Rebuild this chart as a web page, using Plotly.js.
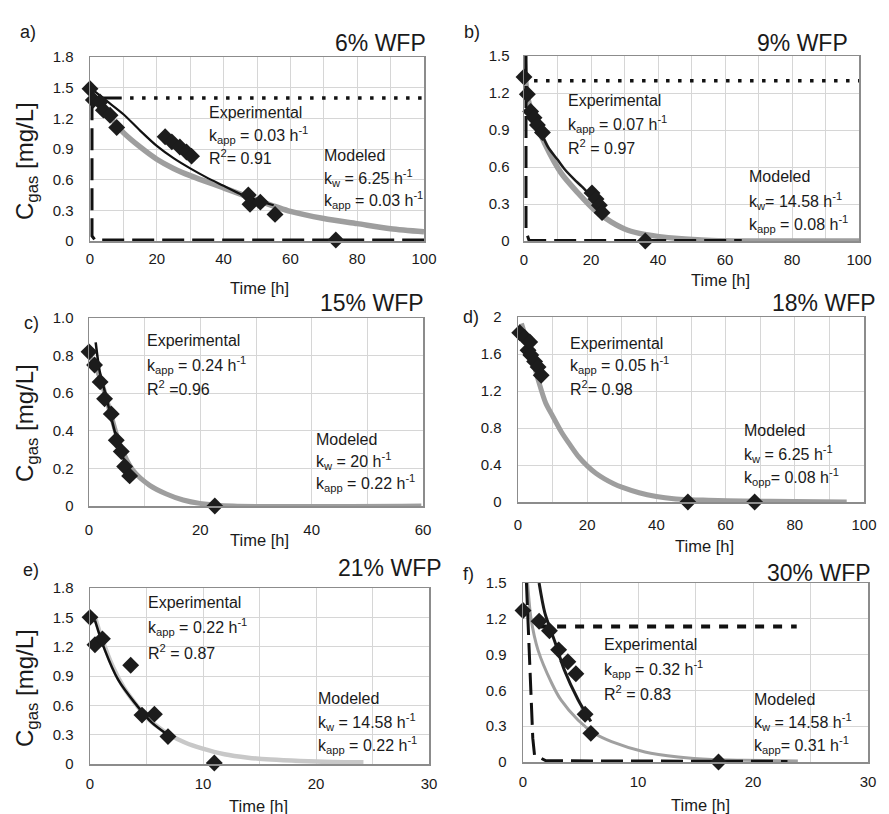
<!DOCTYPE html>
<html><head><meta charset="utf-8">
<script src="https://cdn.plot.ly/plotly-3.0.1.min.js"></script>
<style>html,body{margin:0;padding:0;background:#fff}#chart{width:889px;height:814px}</style>
</head><body><div id="chart"></div>
<script>
// ---------- DATA ----------
// Panel a: 6% WFP
var a_exp_t = [0, 1, 3, 4, 6, 8, 22.5, 24.5, 26.9, 28.9, 30.4, 47.4, 47.9, 51, 55.4, 73.6];
var a_exp_c = [1.49, 1.38, 1.36, 1.28, 1.23, 1.11, 1.02, 0.97, 0.92, 0.87, 0.83, 0.45, 0.36, 0.38, 0.26, 0.01];
var a_fit_t = [0, 5, 10, 15, 20, 25, 30, 35, 40, 45, 50, 55];
var a_fit_c = [1.5, 1.37, 1.24, 1.08, 0.93, 0.81, 0.71, 0.62, 0.54, 0.46, 0.40, 0.35];
var a_mod_t = [0, 5, 10, 15, 20, 25, 30, 40, 50, 60, 70, 80, 90, 100];
var a_mod_c = [1.45, 1.25, 1.06, 0.92, 0.80, 0.71, 0.64, 0.52, 0.40, 0.29, 0.22, 0.17, 0.12, 0.09];
var a_dot_t = [12, 100];
var a_dot_c = [1.4, 1.4];
var a_dash_t = [9.5, 0.6, 0.6, 1.5, 100];
var a_dash_c = [1.4, 1.4, 0.05, 0.01, 0.01];

// Panel b: 9% WFP
var b_exp_t = [0, 1, 2, 3, 4, 5.5, 20.3, 21.5, 22.5, 23.3, 36.2];
var b_exp_c = [1.33, 1.19, 1.05, 1.0, 0.94, 0.88, 0.39, 0.34, 0.29, 0.23, 0.0];
var b_fit_t = [0.7, 3, 5, 7.2, 10, 12.2, 15, 17.3, 21.2, 23];
var b_fit_c = [1.07, 0.96, 0.88, 0.76, 0.66, 0.58, 0.50, 0.44, 0.33, 0.28];
var b_mod_t = [0, 0.5, 1.2, 3, 6.2, 11.1, 16.1, 21.1, 26, 31, 36, 46, 56, 70, 100];
var b_mod_c = [1.5, 1.3, 1.15, 1.0, 0.79, 0.55, 0.39, 0.25, 0.155, 0.087, 0.054, 0.02, 0.005, 0.0, 0.0];
var b_dot_t = [3, 100];
var b_dot_c = [1.3, 1.3];
var b_dash_t = [0.6, 0.6, 1.5, 65];
var b_dash_c = [1.5, 0.08, 0.005, 0.005];

// Panel c: 15% WFP
var c_exp_t = [0, 1, 2, 2.8, 4, 4.9, 5.8, 6.4, 7.3, 22.6];
var c_exp_c = [0.82, 0.75, 0.66, 0.57, 0.49, 0.35, 0.29, 0.21, 0.16, 0.0];
var c_fit_t = [1.2, 1.9, 3.1, 4.6, 6.1, 7.0];
var c_fit_c = [0.87, 0.72, 0.58, 0.40, 0.26, 0.17];
var c_mod_t = [0, 1.9, 3.7, 5.5, 7.9, 10.9, 13.9, 16.9, 19.9, 25.9, 59.7];
var c_mod_c = [0.81, 0.69, 0.51, 0.33, 0.19, 0.11, 0.064, 0.032, 0.014, 0.0, 0.0];
var c_ytickvals = [0, 0.2, 0.4, 0.6, 0.8, 1.0];
var c_yticktext = ['0', '0.2', '0.4', '0.6', '0.8', '1.0'];

// Panel d: 18% WFP
var d_exp_t = [0.5, 1.9, 2.9, 3.4, 3.7, 4.8, 5.8, 6.7, 49.1, 68.4];
var d_exp_c = [1.83, 1.78, 1.64, 1.73, 1.59, 1.52, 1.46, 1.37, 0.0, 0.0];
var d_mod_t = [1, 2.5, 4, 6, 8, 10, 12.5, 15, 17.5, 20, 22.5, 25, 27.5, 30, 35, 40, 45, 50, 55, 65, 80, 95];
var d_mod_c = [1.93, 1.75, 1.57, 1.30, 1.07, 0.93, 0.76, 0.62, 0.49, 0.39, 0.31, 0.25, 0.20, 0.16, 0.10, 0.06, 0.035, 0.025, 0.02, 0.01, 0.005, 0.0];

// Panel e: 21% WFP
var e_exp_t = [0, 0.44, 1.1, 3.6, 4.6, 5.7, 6.9, 11.0];
var e_exp_c = [1.50, 1.22, 1.28, 1.01, 0.50, 0.51, 0.28, 0.01];
var e_fit_t = [0.44, 1.3, 2.5, 4.0, 5.5, 7.1];
var e_fit_c = [1.47, 1.17, 0.86, 0.62, 0.42, 0.28];
var e_mod_t = [0.5, 1, 2, 3, 4, 5, 6, 7, 8.4, 9.9, 11.9, 14, 16, 18.6, 21.5, 24.2];
var e_mod_c = [1.48, 1.3, 1.0, 0.78, 0.62, 0.48, 0.38, 0.30, 0.22, 0.16, 0.10, 0.065, 0.045, 0.03, 0.02, 0.017];

// Panel f: 30% WFP
var f_exp_t = [0, 1.4, 2.3, 3.1, 3.9, 4.6, 5.4, 5.9, 17.0];
var f_exp_c = [1.27, 1.18, 1.10, 0.94, 0.84, 0.74, 0.40, 0.24, 0.0];
var f_fit_t = [1.4, 1.9, 2.8, 3.6, 4.8, 5.9];
var f_fit_c = [1.5, 1.25, 1.0, 0.77, 0.52, 0.34];
var f_mod_t = [0.4, 0.7, 1.3, 2.5, 3.3, 4.8, 6.2, 7.7, 10.6, 13.5, 16.4, 19.3, 23.9];
var f_mod_c = [1.5, 1.2, 0.94, 0.66, 0.52, 0.35, 0.24, 0.17, 0.084, 0.042, 0.02, 0.014, 0.008];
var f_sdash_t = [1.4, 23.8];
var f_sdash_c = [1.135, 1.135];
var f_dash_t = [0.3, 0.5, 0.7, 0.85, 1.0, 2, 23];
var f_dash_c = [1.5, 1.0, 0.5, 0.2, 0.06, 0.01, 0.005];

// Text labels
var panelLetters = ['a)', 'b)', 'c)', 'd)', 'e)', 'f)'];
var panelTitles = ['6% WFP', '9% WFP', '15% WFP', '18% WFP', '21% WFP', '30% WFP'];
var expTexts = [
  ['Experimental', 'k<sub>app</sub> = 0.03 h<sup>-1</sup>', 'R<sup>2</sup>= 0.91'],
  ['Experimental', 'k<sub>app</sub> = 0.07 h<sup>-1</sup>', 'R<sup>2</sup> = 0.97'],
  ['Experimental', 'k<sub>app</sub> = 0.24 h<sup>-1</sup>', 'R<sup>2</sup> =0.96'],
  ['Experimental', 'k<sub>app</sub> = 0.05 h<sup>-1</sup>', 'R<sup>2</sup>= 0.98'],
  ['Experimental', 'k<sub>app</sub> = 0.22 h<sup>-1</sup>', 'R<sup>2</sup> = 0.87'],
  ['Experimental', 'k<sub>app</sub> = 0.32 h<sup>-1</sup>', 'R<sup>2</sup> = 0.83']
];
var modTexts = [
  ['Modeled', 'k<sub>w</sub> = 6.25 h<sup>-1</sup>', 'k<sub>app</sub> = 0.03 h<sup>-1</sup>'],
  ['Modeled', 'k<sub>w</sub>= 14.58 h<sup>-1</sup>', 'k<sub>app</sub> = 0.08 h<sup>-1</sup>'],
  ['Modeled', 'k<sub>w</sub> = 20 h<sup>-1</sup>', 'k<sub>app</sub> = 0.22 h<sup>-1</sup>'],
  ['Modeled', 'k<sub>w</sub> = 6.25 h<sup>-1</sup>', 'k<sub>opp</sub>= 0.08 h<sup>-1</sup>'],
  ['Modeled', 'k<sub>w</sub> = 14.58 h<sup>-1</sup>', 'k<sub>app</sub> = 0.22 h<sup>-1</sup>'],
  ['Modeled', 'k<sub>w</sub> = 14.58 h<sup>-1</sup>', 'k<sub>app</sub>= 0.31 h<sup>-1</sup>']
];
var xTitle = 'Time [h]';
var yTitle = 'C<sub>gas</sub> [mg/L]';

// ---------- LAYOUT HELPERS ----------
var W = 889, H = 814;
function px(x) { return x / W; }
function py(y) { return 1 - y / H; }
var FONT = 'Liberation Sans, Arial, sans-serif';
var GRID = '#d6d6d6';
var FRAME = '#8c8c8c';

// panel pixel boxes [left, right, top, bottom]
var boxes = [
  [90, 424, 57, 241],
  [524, 859, 56, 241],
  [89, 423, 318, 506],
  [518, 864, 317, 502],
  [90, 429, 588, 764],
  [523, 868, 583, 762]
];
var xRanges = [[0, 100], [0, 100], [0, 60], [0, 100], [0, 30], [0, 30]];
var xDticks = [20, 20, 20, 20, 10, 10];
var xMinor = [10, 10, 10, 10, 5, 5];
var yRanges = [[0, 1.8], [0, 1.5], [0, 1.0], [0, 2], [0, 1.8], [0, 1.5]];
var yDticks = [0.3, 0.3, 0.2, 0.4, 0.3, 0.3];
var xStand = [3, 4, 9, 8, 5, 5];
var yStand = [12, 10, 11, 12, 12, 12];

var layout = {
  width: W, height: H,
  margin: {l: 0, r: 0, t: 0, b: 0},
  paper_bgcolor: '#fff', plot_bgcolor: '#fff',
  showlegend: false,
  font: {family: FONT, color: '#1a1a1a'},
  annotations: []
};

for (var i = 0; i < 6; i++) {
  var b = boxes[i];
  var sx = i === 0 ? '' : String(i + 1);
  layout['xaxis' + sx] = {
    domain: [px(b[0]), px(b[1])],
    anchor: 'y' + sx,
    range: xRanges[i], dtick: xDticks[i], tick0: 0,
    showgrid: true, gridcolor: GRID, gridwidth: 1,
    minor: {dtick: xMinor[i], showgrid: true, gridcolor: GRID, gridwidth: 1},
    showline: true, linecolor: FRAME, linewidth: 1.5, mirror: true,
    zeroline: false, ticks: '',
    ticklabelstandoff: xStand[i],
    tickfont: {family: FONT, size: 15, color: '#1a1a1a'}
  };
  layout['yaxis' + sx] = {
    domain: [py(b[3]), py(b[2])],
    anchor: 'x' + sx,
    range: yRanges[i], dtick: yDticks[i], tick0: 0,
    showgrid: true, gridcolor: GRID, gridwidth: 1,
    showline: true, linecolor: FRAME, linewidth: 1.5, mirror: true,
    zeroline: false, ticks: '',
    ticklabelstandoff: yStand[i],
    tickfont: {family: FONT, size: 15, color: '#1a1a1a'}
  };
}
layout.yaxis3.tickmode = 'array';
layout.yaxis3.tickvals = c_ytickvals;
layout.yaxis3.ticktext = c_yticktext;

// annotation positions (pixels)
var letterPos = [[28, 32], [472, 32], [31, 323], [471, 317], [31, 570], [468, 574]];
var titlePos = [[428, 43], [850, 43], [426, 303], [878, 303], [444, 568], [873, 573]];
var expPos = [[207, 113, 22], [566, 101, 23], [145, 341, 23.5], [568, 343, 22.5], [146, 602, 25], [602, 644, 24.5]];
var modPos = [[322, 155, 22.5], [747, 177, 23.5], [314, 439, 22], [742, 430, 23.5], [316, 698, 23.5], [752, 699, 23]];
var xTitlePos = [[259, 288], [720, 280], [259, 540], [704, 546], [258, 806], [700, 805]];
var yTitlePos = [[26, 161], [26, 423], [26, 688]];

function addText(t, x, y, size, xanchor, extra) {
  var a = {text: t, xref: 'paper', yref: 'paper', x: px(x), y: py(y),
    xanchor: xanchor, yanchor: 'middle', showarrow: false,
    font: {family: FONT, size: size, color: '#1a1a1a'}};
  if (extra) for (var k in extra) a[k] = extra[k];
  layout.annotations.push(a);
}

for (var j = 0; j < 6; j++) {
  addText(panelLetters[j], letterPos[j][0], letterPos[j][1], 18, 'center');
  addText(panelTitles[j], titlePos[j][0], titlePos[j][1], 23, 'right');
  for (var k = 0; k < 3; k++) {
    addText(expTexts[j][k], expPos[j][0], expPos[j][1] + k * expPos[j][2], 16, 'left');
    addText(modTexts[j][k], modPos[j][0], modPos[j][1] + k * modPos[j][2], 16, 'left');
  }
  addText(xTitle, xTitlePos[j][0], xTitlePos[j][1], 16.5, 'center');
}
for (var m = 0; m < 3; m++) {
  addText(yTitle, yTitlePos[m][0], yTitlePos[m][1], 24, 'center', {textangle: -90});
}

// ---------- TRACES ----------
var MARK = '#1c1c1c';
function markers(t, c, ax) {
  return {x: t, y: c, xaxis: 'x' + ax, yaxis: 'y' + ax, type: 'scatter', mode: 'markers',
    cliponaxis: false, hoverinfo: 'skip',
    marker: {symbol: 'diamond', size: 13, color: MARK, line: {width: 0}}};
}
function line(t, c, ax, color, width, dash, shape) {
  return {x: t, y: c, xaxis: 'x' + ax, yaxis: 'y' + ax, type: 'scatter', mode: 'lines',
    cliponaxis: false, hoverinfo: 'skip',
    line: {color: color, width: width, dash: dash || 'solid', shape: shape || 'spline', smoothing: 0.8}};
}
var GRAY = '#9e9e9e';
var DASH = '22px,8px';
var DOT = '3.5px,8.5px';

var data = [
  // a
  line(a_mod_t, a_mod_c, '', GRAY, 5.5),
  line(a_dot_t, a_dot_c, '', '#111', 3.5, DOT, 'linear'),
  line(a_dash_t, a_dash_c, '', '#111', 3, DASH, 'linear'),
  line(a_fit_t, a_fit_c, '', '#111', 2.2),
  markers(a_exp_t, a_exp_c, ''),
  // b
  line(b_mod_t, b_mod_c, '2', GRAY, 5.5),
  line(b_dot_t, b_dot_c, '2', '#111', 3.5, DOT, 'linear'),
  line(b_dash_t, b_dash_c, '2', '#111', 3, DASH, 'linear'),
  line(b_fit_t, b_fit_c, '2', '#1a1a1a', 2.5),
  markers(b_exp_t, b_exp_c, '2'),
  // c
  line(c_mod_t, c_mod_c, '3', GRAY, 5),
  line(c_fit_t, c_fit_c, '3', '#111', 2.5),
  markers(c_exp_t, c_exp_c, '3'),
  // d
  line(d_mod_t, d_mod_c, '4', GRAY, 5),
  markers(d_exp_t, d_exp_c, '4'),
  // e
  line(e_mod_t, e_mod_c, '5', '#c8c8c8', 4.5),
  line(e_fit_t, e_fit_c, '5', '#111', 2.5),
  markers(e_exp_t, e_exp_c, '5'),
  // f
  line(f_mod_t, f_mod_c, '6', '#a0a0a0', 3),
  line(f_sdash_t, f_sdash_c, '6', '#111', 4, '9px,9px', 'linear'),
  line(f_dash_t, f_dash_c, '6', '#111', 3, DASH, 'linear'),
  line(f_fit_t, f_fit_c, '6', '#1a1a1a', 3),
  markers(f_exp_t, f_exp_c, '6')
];

Plotly.newPlot('chart', data, layout, {staticPlot: true, displayModeBar: false});
</script>
</body></html>
